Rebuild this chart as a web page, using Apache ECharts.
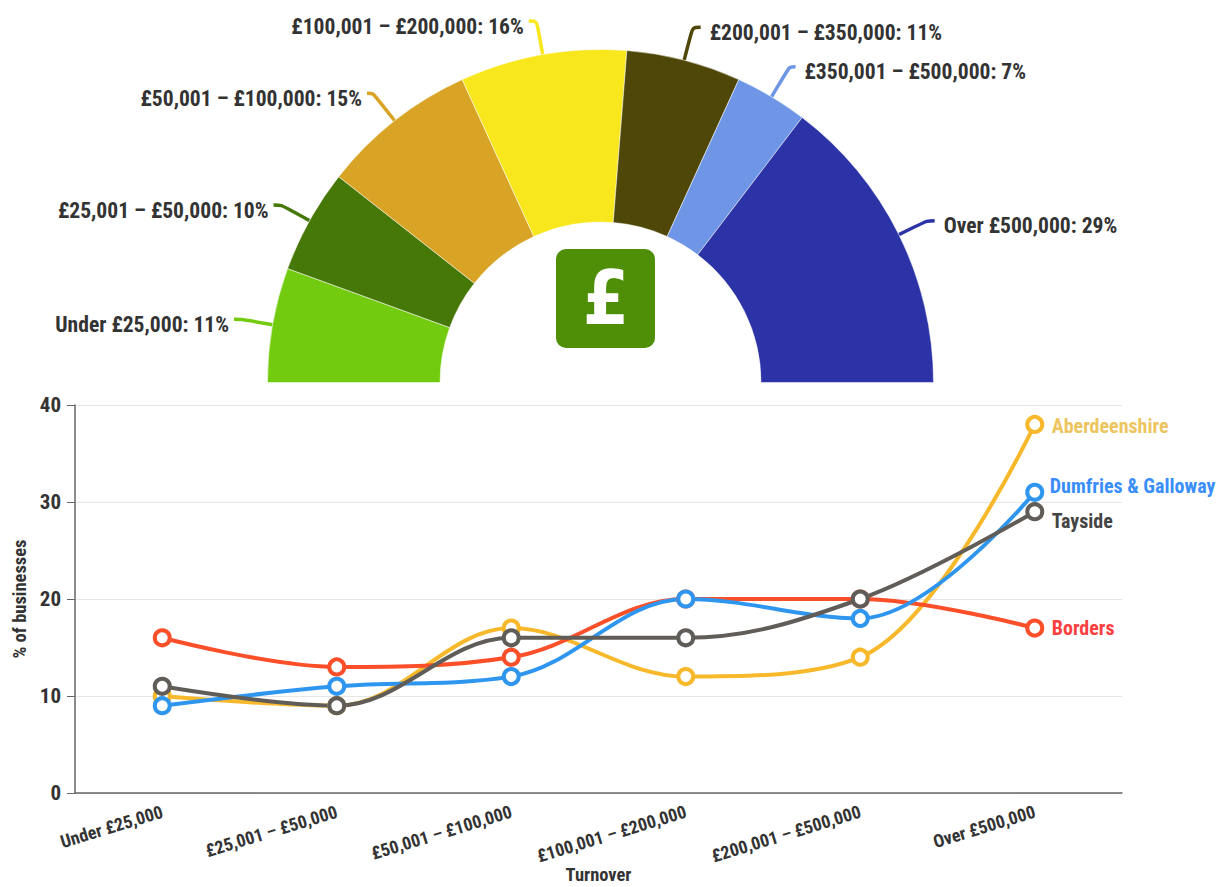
<!DOCTYPE html>
<html><head><meta charset="utf-8">
<style>html,body{margin:0;padding:0;background:#fff}#c{width:1227px;height:887px}
svg text{font-stretch:75% !important}</style>
<script src="https://cdn.jsdelivr.net/npm/echarts@6/dist/echarts.min.js"></script></head>
<body><div id="c"></div>
<script>
const pieCategories=['Under £25,000','£25,001 – £50,000','£50,001 – £100,000','£100,001 – £200,000','£200,001 – £350,000','£350,001 – £500,000','Over £500,000'];
const pieValues=[11,10,15,16,11,7,29];
const pieColors=['#72cb0e','#467807','#d9a326','#f9e71e','#4e4707','#6f96e6','#2c33a6'];
const lineCategories=['Under £25,000','£25,001 – £50,000','£50,001 – £100,000','£100,001 – £200,000','£200,001 – £500,000','Over £500,000'];
const aberdeenshire=[10,9,17,12,14,38];
const borders=[16,13,14,20,20,17];
const dumfries=[9,11,12,20,18,31];
const tayside=[11,9,16,16,20,29];
const leaderLengths=[31,32,35,34,34,35,31];
const leaderTails=[8,8,6,8,8,6,8];
const FF='Roboto, sans-serif';
function lineSeries(name,data,color,labelColor,offset){
  return {type:'line',name,data,smooth:0.36,symbol:'circle',symbolSize:15,showAllSymbols:true,
    lineStyle:{color,width:4},itemStyle:{color:'#fff',borderColor:color,borderWidth:4},
    endLabel:{show:true,formatter:name,color:labelColor,fontFamily:FF,fontWeight:'bold',fontSize:20,distance:17,offset},
    emphasis:{disabled:true},animation:false};
}
const chart=echarts.init(document.getElementById('c'),null,{renderer:'svg'});
chart.setOption({
  animation:false,
  grid:{left:75,right:105,top:405,bottom:94,outerBoundsMode:'none'},
  xAxis:{type:'category',data:lineCategories,
    axisLine:{lineStyle:{color:'#666',width:1.5}},
    axisTick:{alignWithLabel:true,length:10,lineStyle:{color:'#666'}},
    axisLabel:{rotate:17,interval:0,color:'#333',fontFamily:FF,fontWeight:'bold',fontSize:18,margin:18},
    name:'Turnover',nameLocation:'middle',nameGap:74,nameMoveOverlap:false,nameTextStyle:{color:'#333',fontFamily:FF,fontWeight:'bold',fontSize:18.5,lineHeight:16}},
  yAxis:{type:'value',min:0,max:40,interval:10,
    axisLine:{show:true,lineStyle:{color:'#666',width:1.5}},
    axisTick:{show:true,length:8,lineStyle:{color:'#666'}},
    splitLine:{lineStyle:{color:'#e6e6e6'}},
    axisLabel:{color:'#333',fontFamily:FF,fontWeight:'bold',fontSize:21,margin:14},
    name:'% of businesses',nameLocation:'middle',nameGap:46,nameMoveOverlap:false,nameTextStyle:{color:'#333',fontFamily:FF,fontWeight:'bold',fontSize:18.5}},
  series:[
    {type:'pie',center:[600.5,382.5],radius:[160.5,333],startAngle:180,endAngle:0,clockwise:true,avoidLabelOverlap:false,silent:true,
      data:pieCategories.map((n,i)=>({name:n,value:pieValues[i],itemStyle:{color:pieColors[i]},
        label:{padding:i<4?[0,0,0,4]:[0,4,0,4]},
        labelLine:{length:leaderLengths[i],length2:leaderTails[i]}})),
      itemStyle:{borderColor:'#fff',borderWidth:0.5},
      label:{show:true,position:'outside',formatter:p=>p.name+': '+p.value+'%',color:'#333',fontFamily:FF,fontWeight:'bold',fontSize:21.6},
      labelLayout:{dy:5},
      labelLine:{show:true,smooth:0.3,lineStyle:{width:3.5}}},
    lineSeries('Aberdeenshire',aberdeenshire,'#f7b92b','#ecc55f',[0,2]),
    lineSeries('Borders',borders,'#fb4f2a','#fb4040',[0,0]),
    lineSeries('Dumfries & Galloway',dumfries,'#2f96ef','#3a8efc',[-2,-6]),
    lineSeries('Tayside',tayside,'#605c57','#444444',[0,9])
  ],
  graphic:[
    {type:'rect',left:556,top:249,shape:{width:99,height:99,r:10},style:{fill:'#4f8f08'},silent:true},
    {type:'text',x:606,y:298,style:{text:'£',fill:'#fff',font:'bold 74px "DejaVu Sans"',textAlign:'center',textVerticalAlign:'middle'},silent:true}
  ]
});
</script></body></html>
